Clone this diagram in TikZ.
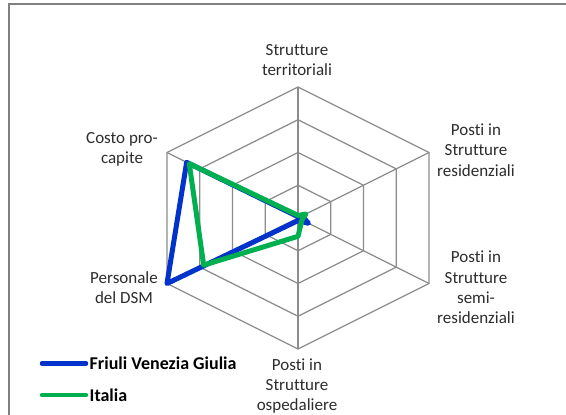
\documentclass[tikz,border=0pt]{standalone}
\usepackage{fontspec}
\setmainfont{Carlito}[Ligatures=NoCommon]
\usetikzlibrary{calc}
\definecolor{gridgray}{RGB}{140,140,140}
\definecolor{framegray}{RGB}{128,128,128}
\definecolor{fvgblue}{RGB}{0,51,204}
\definecolor{itagreen}{RGB}{0,176,80}
\definecolor{labeltext}{RGB}{45,45,45}
\begin{document}
\begin{tikzpicture}[x=1pt,y=-1pt,
  gridline/.style={draw=gridgray,line width=1.3pt},
  series/.style={line width=5pt,line join=round},
  axislabel/.style={align=center,text=labeltext,font=\fontsize{17}{20.3}\selectfont,inner sep=0pt},
  legendline/.style={line width=4.5pt,line cap=round},
  legendtext/.style={anchor=west,font=\fontsize{18}{20}\selectfont\bfseries,inner sep=0pt}]
\useasboundingbox (0,0) rectangle (566,415);
\fill[white] (0,0) rectangle (566,415);
\draw[framegray,line width=1.5pt] (9,416) -- (9,4) -- (567,4);
% centre and outer vertices
\coordinate (C) at (298,218);
\coordinate (V1) at (298,87);
\coordinate (V2) at (429,152.5);
\coordinate (V3) at (429,283.5);
\coordinate (V4) at (298,349);
\coordinate (V5) at (167,283.5);
\coordinate (V6) at (167,152.5);
% rings
\foreach \k in {0.25,0.5,0.75,1}{
  \draw[gridline] ($(C)!\k!(V1)$) -- ($(C)!\k!(V2)$) -- ($(C)!\k!(V3)$) -- ($(C)!\k!(V4)$) -- ($(C)!\k!(V5)$) -- ($(C)!\k!(V6)$) -- cycle;
}
\foreach \i in {1,...,6}{\draw[gridline] (C) -- (V\i);}
% series
\draw[series,fvgblue] ($(C)!0.01!(V1)$) -- ($(C)!0.03!(V2)$) -- ($(C)!0.08!(V3)$) -- ($(C)!0.02!(V4)$) -- ($(C)!1!(V5)$) -- ($(C)!0.85!(V6)$) -- cycle;
\draw[series,itagreen] ($(C)!0.02!(V1)$) -- ($(C)!0.06!(V2)$) -- ($(C)!0.03!(V3)$) -- ($(C)!0.14!(V4)$) -- ($(C)!0.72!(V5)$) -- ($(C)!0.83!(V6)$) -- cycle;
% axis labels
\node[axislabel] (l1) at (297,60.3) {Strutture\\territoriali};
\node[axislabel] (l2) at (476,150) {Posti in\\Strutture\\residenziali};
\node[axislabel] (l3) at (476,287.5) {Posti in\\Strutture\\semi-\\residenziali};
\node[axislabel] (l4) at (297,386) {Posti in\\Strutture\\ospedaliere};
\node[axislabel] (l5) at (124,287.5) {Personale\\del DSM};
\node[axislabel] (l6) at (122,149.7) {Costo pro-\\capite};
% legend
\coordinate (b1) at (42,363.5);
\coordinate (b2) at (86,363.5);
\coordinate (g1) at (42,395);
\coordinate (g2) at (86,395);
\draw[legendline,fvgblue] (b1) -- (b2);
\draw[legendline,itagreen] (g1) -- (g2);
\node[legendtext] (t1) at ([xshift=3.5pt]b2) {Friuli Venezia Giulia};
\node[legendtext] (t2) at ([xshift=3.5pt]g2) {Italia};
\end{tikzpicture}
\end{document}
